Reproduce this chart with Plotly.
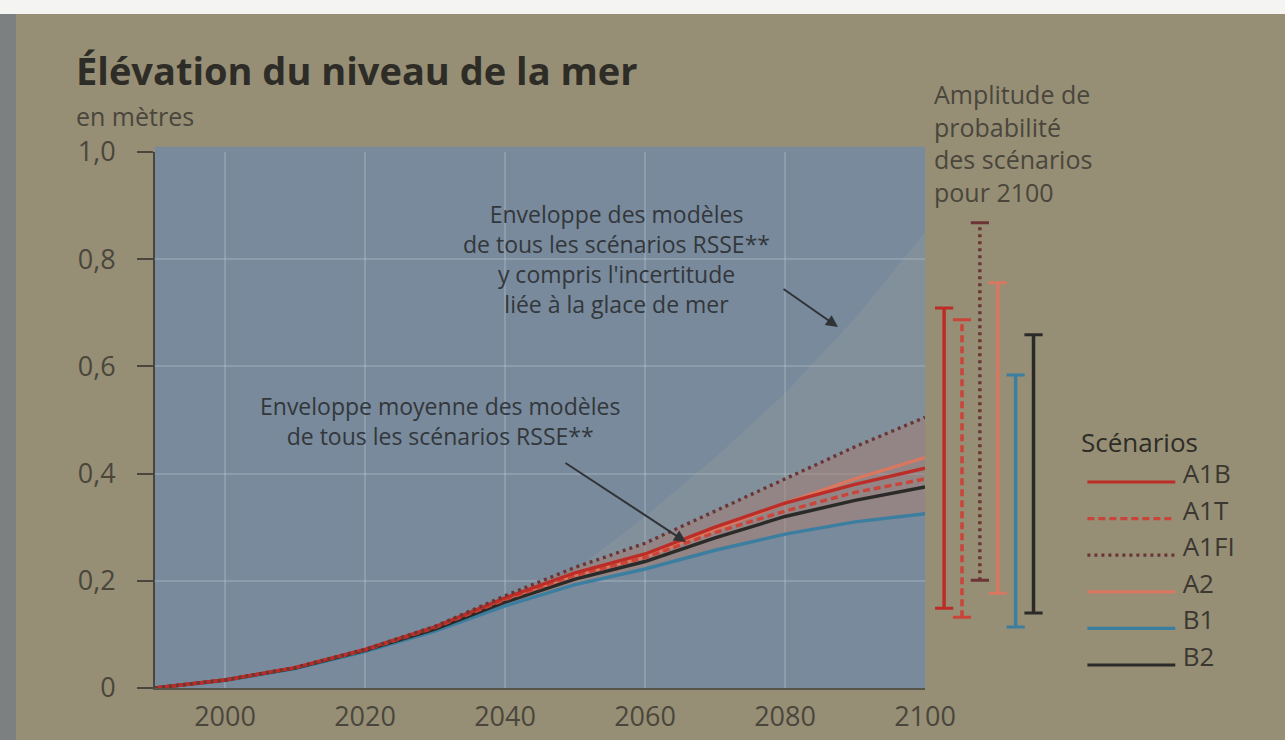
import plotly.graph_objects as go

# ---------------- data ----------------
years = [1990, 2000, 2010, 2020, 2030, 2040, 2050, 2060, 2070, 2080, 2090, 2100]
a1fi = [0, 0.015, 0.038, 0.072, 0.115, 0.172, 0.225, 0.27, 0.33, 0.39, 0.45, 0.505]
a2   = [0, 0.015, 0.038, 0.071, 0.112, 0.165, 0.21, 0.245, 0.295, 0.345, 0.39, 0.43]
a1b  = [0, 0.015, 0.038, 0.072, 0.114, 0.168, 0.215, 0.25, 0.30, 0.345, 0.38, 0.41]
a1t  = [0, 0.015, 0.038, 0.071, 0.113, 0.165, 0.21, 0.243, 0.29, 0.33, 0.365, 0.39]
b2   = [0, 0.015, 0.037, 0.07, 0.11, 0.16, 0.203, 0.236, 0.28, 0.32, 0.35, 0.375]
b1   = [0, 0.014, 0.036, 0.068, 0.106, 0.153, 0.193, 0.222, 0.257, 0.287, 0.31, 0.325]

env_years = [2040, 2050, 2060, 2070, 2080, 2090, 2100]
env_upper = [0.16, 0.22, 0.32, 0.43, 0.55, 0.69, 0.85]
env_lower = [0.153, 0.193, 0.222, 0.257, 0.287, 0.31, 0.325]

scenarios = ["A1B", "A1T", "A1FI", "A2", "B1", "B2"]
bar_low  = [0.149, 0.132, 0.201, 0.177, 0.114, 0.140]
bar_high = [0.709, 0.687, 0.868, 0.756, 0.584, 0.659]

yticks = [0, 0.2, 0.4, 0.6, 0.8, 1.0]
ytick_labels = ["0", "0,2", "0,4", "0,6", "0,8", "1,0"]
xticks = [2000, 2020, 2040, 2060, 2080, 2100]

series = {"A1B": a1b, "A1T": a1t, "A1FI": a1fi, "A2": a2, "B1": b1, "B2": b2}
colors = {"A1B": "#bd2d27", "A1T": "#c9453a", "A1FI": "#6b3535",
          "A2": "#d97760", "B1": "#3c7ea0", "B2": "#2a2a28"}
dashes = {"A1B": "solid", "A1T": "7px,4px", "A1FI": "3px,4px",
          "A2": "solid", "B1": "solid", "B2": "solid"}

FONT = "Open Sans"
TXT = "#3a3830"
PAGE = "#968f75"
PLOT = "#788a9b"

fig = go.Figure()

# big envelope (incl. ice uncertainty)
fig.add_trace(go.Scatter(x=env_years, y=env_lower, mode="lines", line=dict(width=0),
                         hoverinfo="skip", showlegend=False))
fig.add_trace(go.Scatter(x=env_years, y=env_upper, mode="lines", line=dict(width=0),
                         fill="tonexty", fillcolor="rgba(170,170,160,0.2)",
                         hoverinfo="skip", showlegend=False))
# mean envelope
fig.add_trace(go.Scatter(x=years, y=b1, mode="lines", line=dict(width=0),
                         hoverinfo="skip", showlegend=False))
fig.add_trace(go.Scatter(x=years, y=a1fi, mode="lines", line=dict(width=0),
                         fill="tonexty", fillcolor="rgba(175,115,100,0.38)",
                         hoverinfo="skip", showlegend=False))

for name in ["B1", "A2", "B2", "A1T", "A1B", "A1FI"]:
    fig.add_trace(go.Scatter(x=years, y=series[name], mode="lines", name=name,
                             line=dict(color=colors[name], width=3.4, dash=dashes[name]),
                             showlegend=False))

# probability range bars for 2100
for i, name in enumerate(scenarios):
    fig.add_trace(go.Scatter(x=[i, i], y=[bar_low[i], bar_high[i]], mode="lines+markers",
                             xaxis="x2", yaxis="y2",
                             line=dict(color=colors[name], width=3.5, dash=dashes[name]),
                             marker=dict(symbol="line-ew", size=13,
                                         line=dict(color=colors[name], width=3)),
                             showlegend=False, hoverinfo="skip"))

# manual legend
for i, name in enumerate(scenarios):
    fig.add_trace(go.Scatter(x=[0.04, 0.515], y=[i, i], mode="lines", xaxis="x3", yaxis="y3",
                             line=dict(color=colors[name], width=3.2, dash=dashes[name]),
                             showlegend=False, hoverinfo="skip"))
    fig.add_trace(go.Scatter(x=[0.555], y=[i - 0.15], mode="text", text=[name],
                             textposition="middle right", xaxis="x3", yaxis="y3",
                             textfont=dict(family=FONT, size=26, color=TXT),
                             showlegend=False, hoverinfo="skip", cliponaxis=False))

L, R, T, B = 155, 20, 152, 52
W, H = 1285, 740
pw = W - L - R
ph = H - T - B
def px(x):
    return (x - L) / pw
def py(y):
    return (H - B - y) / ph

main_right = px(925)

fig.update_layout(
    width=W, height=H, autosize=False,
    margin=dict(l=L, r=R, t=T, b=B, autoexpand=False),
    paper_bgcolor=PAGE, plot_bgcolor="rgba(0,0,0,0)",
    font=dict(family=FONT, color=TXT),
    title=dict(text="<b>Élévation du niveau de la mer</b>", x=76 / W, xanchor="left",
               y=1 - 72 / H, yanchor="middle", automargin=False,
               font=dict(family=FONT, size=38, color="#2e2c26")),
    xaxis=dict(domain=[0, main_right], range=[1990, 2100], tickvals=xticks,
               ticks="", showgrid=True, gridcolor="rgba(205,215,222,0.25)", gridwidth=2,
               zeroline=False, showline=True, linecolor="rgba(60,60,55,0.7)", linewidth=2,
               tickfont=dict(family=FONT, size=27, color="#4a463c"),
               ticklabelstandoff=4, automargin=False, fixedrange=True),
    yaxis=dict(domain=[0, 1], range=[0, 1.0], tickvals=yticks, ticktext=ytick_labels,
               ticks="outside", ticklen=16, tickwidth=2, tickcolor="#4a463c",
               showgrid=True, gridcolor="rgba(205,215,222,0.25)", gridwidth=2,
               zeroline=False, showline=True, linecolor="#4a463c", linewidth=2,
               tickfont=dict(family=FONT, size=27, color="#4a463c"),
               ticklabelstandoff=16, automargin=False, fixedrange=True),
    xaxis2=dict(domain=[main_right + 0.002, 1], range=[-(942 - 925) / 18, (1265 - 942) / 18],
                anchor="y2", visible=False, automargin=False, fixedrange=True),
    yaxis2=dict(domain=[0, 1], range=[0, 1.0], anchor="x2", visible=False,
                automargin=False, fixedrange=True),
    xaxis3=dict(domain=[px(1080), 1], range=[0, 1], anchor="y3", visible=False,
                automargin=False, fixedrange=True),
    yaxis3=dict(domain=[0, 1], range=[(688 - 482) / 36.6, -(482 - 152) / 36.6],
                anchor="x3", visible=False, automargin=False, fixedrange=True),
    showlegend=False,
)

shapes = [
    dict(type="rect", xref="x domain", yref="y domain", x0=0, x1=1, y0=0, y1=1.01,
         fillcolor=PLOT, line=dict(width=0), layer="below"),
    dict(type="rect", xref="paper", yref="paper", x0=px(0), x1=px(W), y0=py(0), y1=py(14),
         fillcolor="#f4f4f2", line=dict(width=0), layer="below"),
    dict(type="rect", xref="paper", yref="paper", x0=px(0), x1=px(16), y0=py(H), y1=py(14),
         fillcolor="#7c8080", line=dict(width=0), layer="below"),
]
fig.update_layout(shapes=shapes)

ann = []
ann.append(dict(text="en mètres", xref="paper", yref="paper", x=px(74), y=py(116),
                xanchor="left", yanchor="middle", showarrow=False,
                font=dict(family=FONT, size=25, color="#4a463c")))
ann.append(dict(text="Amplitude de<br>probabilité<br>des scénarios<br>pour 2100",
                xref="paper", yref="paper", x=px(932), y=py(143), xanchor="left",
                yanchor="middle", align="left", showarrow=False,
                font=dict(family=FONT, size=25, color="#4a463c")))
ann.append(dict(text="Scénarios", xref="paper", yref="paper", x=px(1079), y=py(442),
                xanchor="left", yanchor="middle", showarrow=False,
                font=dict(family=FONT, size=26, color="#2e2c26")))
ann.append(dict(text="Enveloppe des modèles<br>de tous les scénarios RSSE**<br>y compris l'incertitude<br>liée à la glace de mer",
                xref="x", yref="y", x=1990 + (616 - 155) / 7, y=(688 - 259) / 536,
                xanchor="center", yanchor="middle", align="center", showarrow=False,
                font=dict(family=FONT, size=23, color="#33373b")))
ann.append(dict(text="Enveloppe moyenne des modèles<br>de tous les scénarios RSSE**",
                xref="x", yref="y", x=1990 + (440 - 155) / 7, y=(688 - 421) / 536,
                xanchor="center", yanchor="middle", align="center", showarrow=False,
                font=dict(family=FONT, size=23, color="#33373b")))
# arrows
ann.append(dict(text="", xref="x", yref="y", x=1990 + (838 - 155) / 7, y=(688 - 327) / 536,
                ax=-56, ay=-39, showarrow=True, arrowhead=2, arrowsize=1.2,
                arrowwidth=2, arrowcolor="#2f3336"))
ann.append(dict(text="", xref="x", yref="y", x=1990 + (686 - 155) / 7, y=(688 - 542) / 536,
                ax=-122, ay=-80, showarrow=True, arrowhead=2, arrowsize=1.2,
                arrowwidth=2, arrowcolor="#2f3336"))
fig.update_layout(annotations=ann)

fig.write_html(
    "out.html",
    config={"responsive": False, "displayModeBar": False},
    post_script="document.body.style.margin='0';document.body.style.overflow='hidden';",
)
